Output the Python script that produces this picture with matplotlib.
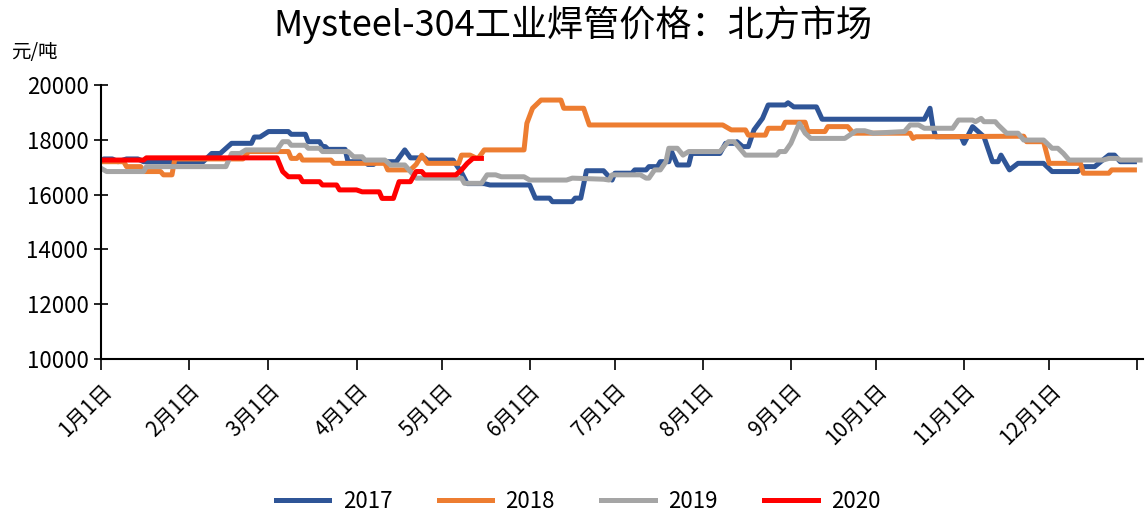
import matplotlib
matplotlib.use("Agg")
import matplotlib.pyplot as plt

plt.rcParams['font.family'] = ['Noto Sans CJK SC', 'DejaVu Sans']

title = "Mysteel-304工业焊管价格：北方市场"
unit = "元/吨"
month_days = [0, 31, 59, 90, 120, 151, 181, 212, 243, 273, 304, 334]
month_labels = ["1月1日", "2月1日", "3月1日", "4月1日", "5月1日", "6月1日",
                "7月1日", "8月1日", "9月1日", "10月1日", "11月1日", "12月1日"]

# day of year / price (元/吨)
d2017 = [0, 1, 4, 6, 9, 13, 15, 36, 39, 42, 46, 53, 54, 56, 59, 66, 67, 72, 73, 77, 78, 79, 80, 86, 87,
         93, 94, 96, 97, 104, 107, 109, 114, 115, 124, 127, 129, 135, 137, 151, 153, 158, 159, 166, 167,
         169, 171, 177, 180, 181, 187, 188, 192, 193, 196, 197, 200, 201, 203, 207, 208, 218, 220, 223,
         224, 226, 228, 230, 233, 235, 241, 242, 244, 252, 254, 290, 292, 293, 294, 303, 304, 307, 311,
         314, 316, 317, 320, 323, 332, 335, 344, 346, 350, 355, 357, 359, 364]
v2017 = [17250, 17300, 17300, 17200, 17300, 17300, 17200, 17200, 17500, 17500, 17870, 17870, 18100, 18100,
         18300, 18300, 18200, 18200, 17930, 17930, 17750, 17750, 17650, 17650, 17200, 17200, 17100, 17100,
         17200, 17200, 17630, 17340, 17340, 17260, 17260, 16800, 16400, 16400, 16350, 16350, 15870, 15870,
         15740, 15740, 15870, 15870, 16870, 16870, 16530, 16780, 16780, 16900, 16900, 17020, 17020, 17200,
         17200, 17560, 17080, 17080, 17500, 17500, 17870, 17870, 17930, 17750, 17750, 18360, 18780, 19270,
         19270, 19350, 19200, 19200, 18750, 18750, 19150, 18480, 18110, 18110, 17870, 18480, 18110, 17200,
         17200, 17440, 16900, 17140, 17140, 16840, 16840, 17020, 17020, 17440, 17440, 17200, 17200]

d2018 = [0, 8, 9, 14, 15, 21, 22, 25, 26, 50, 52, 66, 67, 69, 70, 71, 81, 82, 100, 101, 109, 111, 113, 115,
         126, 127, 130, 132, 133, 135, 149, 150, 152, 155, 162, 163, 170, 172, 219, 222, 227, 228, 234,
         235, 240, 241, 248, 249, 255, 256, 263, 265, 285, 286, 287, 325, 326, 332, 334, 345, 346, 355,
         356, 364]
v2018 = [17200, 17200, 17020, 17020, 16840, 16840, 16720, 16720, 17300, 17300, 17570, 17570, 17320, 17320,
         17440, 17260, 17260, 17140, 17140, 16900, 16900, 17100, 17440, 17140, 17140, 17440, 17440, 17340,
         17340, 17630, 17630, 18600, 19150, 19450, 19450, 19150, 19150, 18540, 18540, 18360, 18360, 18170,
         18170, 18420, 18420, 18640, 18640, 18300, 18300, 18480, 18480, 18240, 18240, 18050, 18110, 18130,
         17930, 17930, 17140, 17140, 16780, 16780, 16900, 16900]

d2019 = [0, 2, 15, 16, 44, 46, 49, 51, 62, 64, 66, 67, 72, 73, 77, 78, 87, 89, 92, 93, 100, 102, 107, 109,
         111, 127, 128, 134, 136, 139, 141, 149, 151, 164, 166, 177, 179, 180, 190, 192, 193, 195, 197,
         199, 200, 203, 205, 207, 218, 221, 223, 227, 238, 239, 241, 243, 246, 248, 250, 262, 266, 269,
         272, 283, 285, 288, 290, 300, 302, 307, 308, 310, 311, 315, 316, 319, 323, 325, 332, 335, 337,
         339, 341, 353, 355, 358, 359, 366]
v2019 = [16960, 16840, 16840, 17020, 17020, 17500, 17500, 17630, 17630, 17930, 17930, 17800, 17800, 17690,
         17690, 17570, 17570, 17380, 17380, 17260, 17260, 17080, 17080, 16840, 16600, 16600, 16410, 16410,
         16720, 16720, 16650, 16650, 16530, 16530, 16600, 16560, 16530, 16720, 16720, 16600, 16600, 16900,
         16900, 17200, 17690, 17690, 17440, 17570, 17570, 17930, 17930, 17440, 17440, 17570, 17570, 17870,
         18600, 18240, 18050, 18050, 18330, 18330, 18240, 18300, 18540, 18540, 18420, 18420, 18720, 18720,
         18660, 18780, 18660, 18660, 18540, 18240, 18240, 17990, 17990, 17690, 17690, 17500, 17260, 17260,
         17320, 17320, 17260, 17260]

d2020 = [0, 15, 16, 62, 64, 66, 70, 71, 77, 78, 83, 84, 90, 92, 98, 99, 103, 105, 109, 111, 113, 114, 125,
         127, 129, 131, 134]
v2020 = [17260, 17260, 17340, 17340, 16840, 16650, 16650, 16470, 16470, 16350, 16350, 16170, 16170, 16100,
         16100, 15860, 15860, 16470, 16470, 16840, 16840, 16720, 16720, 16900, 17140, 17320, 17320]

series = [("2017", d2017, v2017, "#2F5597"),
          ("2018", d2018, v2018, "#ED7D31"),
          ("2019", d2019, v2019, "#A5A5A5"),
          ("2020", d2020, v2020, "#FF0000")]

fig = plt.figure(figsize=(11.45, 5.15), dpi=100)
ax = fig.add_axes([0.0882, 0.303, 0.910, 0.532])

for name, d, v, c in series:
    ax.plot(d, v, color=c, lw=3.6, label=name, solid_joinstyle='round')

ax.set_xlim(0, 367)
ax.set_ylim(10000, 20000)
ax.set_yticks(range(10000, 20001, 2000))
ax.set_xticks(month_days + [365])
ax.set_xticklabels(month_labels + [""], rotation=45, ha='right', rotation_mode='anchor', fontsize=15)
ax.tick_params(axis='x', direction='out', length=8, width=1.2, pad=7)
ax.tick_params(axis='y', direction='inout', length=10, width=1.2, labelsize=16, pad=4)
for s in ['top', 'right']:
    ax.spines[s].set_visible(False)
for s in ['left', 'bottom']:
    ax.spines[s].set_linewidth(1.5)

fig.text(0.5, 0.952, title, ha='center', va='center', fontsize=26)
fig.text(0.010, 0.898, unit, ha='left', va='center', fontsize=14)

fig.legend(loc='lower center', bbox_to_anchor=(0.505, -0.035), ncol=4, frameon=False,
           fontsize=16, handlelength=2.4, columnspacing=2.1, handletextpad=0.6)

fig.savefig("out.png", dpi=100)
